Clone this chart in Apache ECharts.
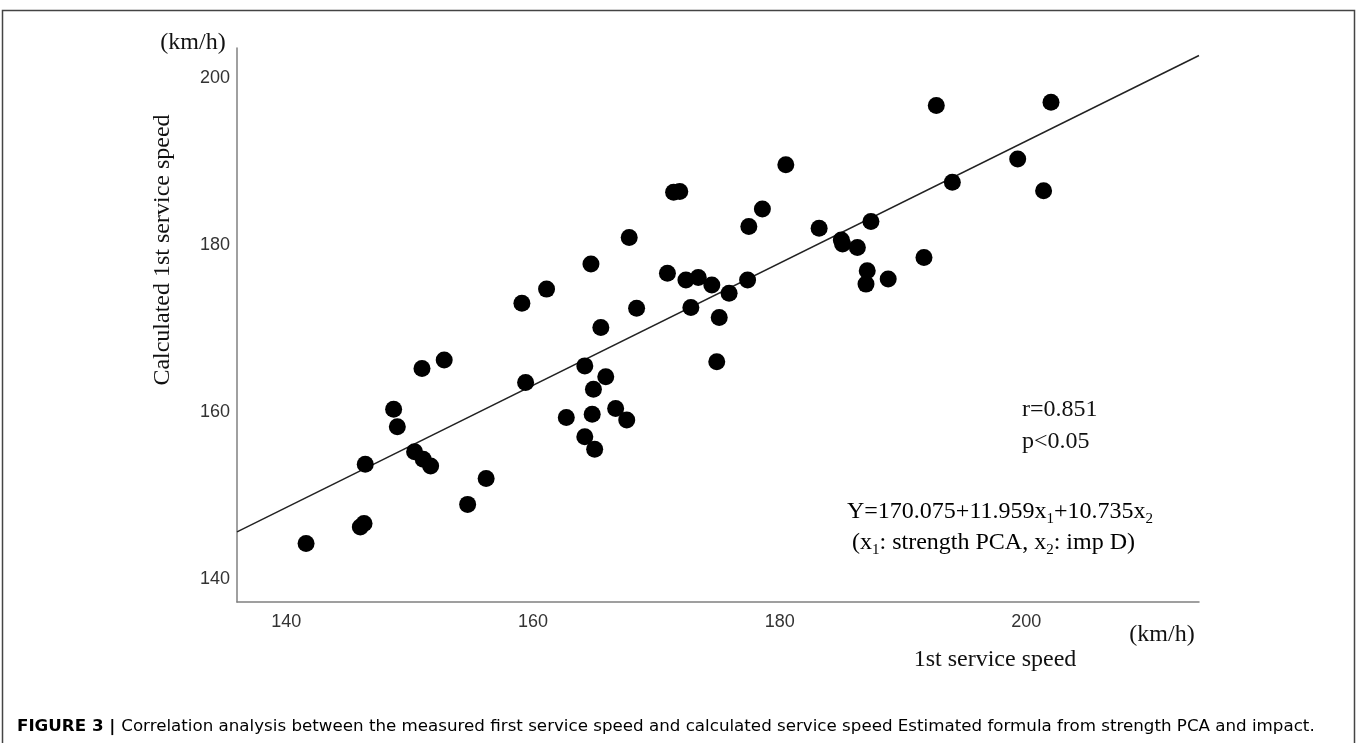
<!DOCTYPE html>
<html>
<head>
<meta charset="utf-8">
<script src="https://cdn.jsdelivr.net/npm/echarts@6/dist/echarts.min.js"></script>
<style>
html,body{margin:0;padding:0;background:#fff;}
#chart{width:1360px;height:743px;}
</style>
</head>
<body>
<div id="chart"></div>
<script>
// Measured first service speed (km/h)
const measured = [
  141.6, 146.0, 146.3, 146.4, 148.7, 149.0, 151.0, 152.8, 150.4, 151.1, 151.7, 154.7, 156.2,
  159.1, 161.1, 164.7, 167.8, 171.4, 171.9, 159.4, 165.5, 168.4, 170.9, 172.4, 173.4, 174.5,
  172.8, 175.9, 175.1, 174.9, 164.2, 165.9, 164.9, 162.7, 164.8, 166.7, 167.6, 164.2, 165.0,
  177.5, 178.6, 177.4,
  180.5, 192.7, 202.0, 183.2, 185.0, 185.1, 186.3, 187.4, 187.1, 187.0, 188.8, 191.7, 194.0,
  199.3, 201.4
];
// Calculated first service speed (km/h)
const calculated = [
  144.2, 146.2, 146.6, 153.7, 160.3, 158.2, 165.2, 166.2, 155.2, 154.3, 153.5, 148.9, 152.0,
  173.0, 174.7, 177.7, 180.9, 186.3, 186.4, 163.5, 170.1, 172.4, 176.6, 175.8, 176.1, 175.2,
  172.5, 174.2, 171.3, 166.0, 165.5, 164.2, 162.7, 159.3, 159.7, 160.4, 159.0, 157.0, 155.5,
  182.2, 184.3, 175.8,
  189.6, 196.7, 197.1, 182.0, 180.6, 180.1, 179.7, 182.8, 176.9, 175.3, 175.9, 178.5, 187.5,
  190.3, 186.5
];
// Regression line end points (x at axis ends, fitted y)
const fitX = [136, 214];
const fitY = [145.6, 202.7];
// Tick labels shown
const xTickLabels = [140, 160, 180, 200];
const yTickLabels = [140, 160, 180, 200];

const points = measured.map((v, i) => [v, calculated[i]]);
const fitLine = fitX.map((v, i) => [v, fitY[i]]);

function showTick(list) {
  return function (v) {
    for (const t of list) {
      if (Math.abs(v - t) < 1e-6) return String(t);
    }
    return '';
  };
}

const serif = '"Liberation Serif", "DejaVu Serif", serif';
const sans = '"Liberation Sans", Arial, sans-serif';
const capFont = '"DejaVu Sans", "Liberation Sans", sans-serif';

const chart = echarts.init(document.getElementById('chart'), null, { renderer: 'canvas' });
chart.setOption({
  animation: false,
  backgroundColor: '#fff',
  grid: { left: 237, top: 48, width: 962, height: 554, containLabel: false },
  xAxis: {
    type: 'value', min: 136, max: 214, interval: 2,
    axisLine: { show: true, lineStyle: { color: '#808080', width: 1.5 } },
    axisTick: { show: false },
    splitLine: { show: false },
    axisLabel: { formatter: showTick(xTickLabels), color: '#333', fontSize: 18, fontFamily: sans, margin: 11, showMinLabel: true, showMaxLabel: true, interval: 0 }
  },
  yAxis: {
    type: 'value', min: 137.2, max: 203.6, interval: 0.4,
    axisLine: { show: true, lineStyle: { color: '#808080', width: 1.5 } },
    axisTick: { show: false },
    splitLine: { show: false },
    axisLabel: { formatter: showTick(yTickLabels), color: '#333', fontSize: 18, fontFamily: sans, margin: 7, interval: 0 }
  },
  series: [
    {
      type: 'line', data: fitLine, showSymbol: false, symbol: 'none',
      lineStyle: { color: '#222', width: 1.5 }, z: 2, silent: true
    },
    {
      type: 'scatter', data: points, symbolSize: 17,
      itemStyle: { color: '#000', opacity: 1 }, z: 3
    }
  ],
  graphic: [
    { type: 'rect', shape: { x: 2.5, y: 10.5, width: 1352, height: 740 }, style: { fill: 'none', stroke: '#444', lineWidth: 1.5 }, z: 0, silent: true },
    { type: 'text', style: { x: 193, y: 43, text: '(km/h)', font: '24px ' + serif, fill: '#111', textAlign: 'center', textVerticalAlign: 'middle' } },
    { type: 'text', rotation: Math.PI / 2, x: 163, y: 250, style: { x: 0, y: 0, text: 'Calculated 1st service speed', font: '24px ' + serif, fill: '#111', textAlign: 'center', textVerticalAlign: 'middle' } },
    { type: 'text', style: { x: 1162, y: 635, text: '(km/h)', font: '24px ' + serif, fill: '#111', textAlign: 'center', textVerticalAlign: 'middle' } },
    { type: 'text', style: { x: 995, y: 660, text: '1st service speed', font: '24px ' + serif, fill: '#111', textAlign: 'center', textVerticalAlign: 'middle' } },
    { type: 'text', style: { x: 1022, y: 410, text: 'r=0.851', font: '24px ' + serif, fill: '#111', textAlign: 'left', textVerticalAlign: 'middle' } },
    { type: 'text', style: { x: 1022, y: 442, text: 'p<0.05', font: '24px ' + serif, fill: '#111', textAlign: 'left', textVerticalAlign: 'middle' } },
    { type: 'text', style: {
        x: 847, y: 512, textAlign: 'left', textVerticalAlign: 'middle',
        text: '{n|Y=170.075+11.959x}{s|1}{n|+10.735x}{s|2}',
        rich: {
          n: { fontFamily: serif, fontSize: 24, color: '#111', lineHeight: 30, verticalAlign: 'middle' },
          s: { fontFamily: serif, fontSize: 15, color: '#111', lineHeight: 30, verticalAlign: 'bottom' }
        }
    } },
    { type: 'text', style: {
        x: 852, y: 543, textAlign: 'left', textVerticalAlign: 'middle',
        text: '{n|(x}{s|1}{n|: strength PCA, x}{s|2}{n|: imp D)}',
        rich: {
          n: { fontFamily: serif, fontSize: 24, color: '#111', lineHeight: 30, verticalAlign: 'middle' },
          s: { fontFamily: serif, fontSize: 15, color: '#111', lineHeight: 30, verticalAlign: 'bottom' }
        }
    } },
    { type: 'text', style: {
        x: 17, y: 727, textAlign: 'left', textVerticalAlign: 'middle',
        text: '{b|FIGURE 3 | }{r|Correlation analysis between the measured first service speed and calculated service speed Estimated formula from strength PCA and impact.}',
        rich: {
          b: { fontFamily: capFont, fontSize: 16.7, fontWeight: 'bold', color: '#222' },
          r: { fontFamily: capFont, fontSize: 16.7, color: '#222' }
        }
    } }
  ]
});
</script>
</body>
</html>
